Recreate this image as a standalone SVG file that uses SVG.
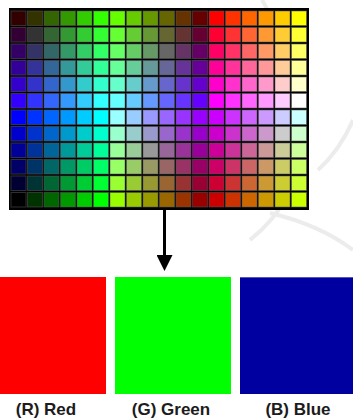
<svg xmlns="http://www.w3.org/2000/svg" xmlns:xlink="http://www.w3.org/1999/xlink" width="353" height="420" viewBox="0 0 353 420">
<style>
.lbl{font-family:"Liberation Sans",Arial,sans-serif;font-weight:bold;font-size:17px;fill:#1c1c1c;text-anchor:middle}
.conn{stroke:#000;stroke-width:3;fill:none}
.wm{fill:none;stroke:#ececec;stroke-width:4}
</style>
<defs>
<rect id="k" width="15" height="14.5" stroke="#555" stroke-opacity="0.55" stroke-width="1"/>
<marker id="ah" markerUnits="userSpaceOnUse" markerWidth="16" markerHeight="16" refX="0" refY="8" orient="auto" viewBox="0 0 16 16">
<path d="M0,0 L16,8 L0,16 Z" fill="#000"/>
</marker>
</defs>
<rect width="353" height="420" fill="#fff"/>
<g id="watermark">
<path class="wm" d="M262,0 Q300,60 300,140 Q300,200 250,240"/>
<path class="wm" d="M270,213 Q320,225 353,250"/>
<path class="wm" d="M318,170 Q340,150 353,120"/>
</g>
<g id="palette">
<rect x="9" y="8" width="300" height="202" fill="#000"/>
<g id="row0" transform="translate(0,11)">
<use xlink:href="#k" x="11" fill="#300"/><use xlink:href="#k" x="27.5" fill="#330"/><use xlink:href="#k" x="44" fill="#360"/><use xlink:href="#k" x="60.5" fill="#390"/><use xlink:href="#k" x="77" fill="#3C0"/><use xlink:href="#k" x="93.5" fill="#3F0"/><use xlink:href="#k" x="110" fill="#6F0"/><use xlink:href="#k" x="126.5" fill="#6C0"/><use xlink:href="#k" x="143" fill="#690"/><use xlink:href="#k" x="159.5" fill="#660"/><use xlink:href="#k" x="176" fill="#630"/><use xlink:href="#k" x="192.5" fill="#600"/><use xlink:href="#k" x="209" fill="#F00"/><use xlink:href="#k" x="225.5" fill="#F30"/><use xlink:href="#k" x="242" fill="#F60"/><use xlink:href="#k" x="258.5" fill="#F90"/><use xlink:href="#k" x="275" fill="#FC0"/><use xlink:href="#k" x="291.5" fill="#FF0"/>
</g>
<g id="row1" transform="translate(0,27.5)">
<use xlink:href="#k" x="11" fill="#303"/><use xlink:href="#k" x="27.5" fill="#333"/><use xlink:href="#k" x="44" fill="#363"/><use xlink:href="#k" x="60.5" fill="#393"/><use xlink:href="#k" x="77" fill="#3C3"/><use xlink:href="#k" x="93.5" fill="#3F3"/><use xlink:href="#k" x="110" fill="#6F3"/><use xlink:href="#k" x="126.5" fill="#6C3"/><use xlink:href="#k" x="143" fill="#693"/><use xlink:href="#k" x="159.5" fill="#663"/><use xlink:href="#k" x="176" fill="#633"/><use xlink:href="#k" x="192.5" fill="#603"/><use xlink:href="#k" x="209" fill="#F03"/><use xlink:href="#k" x="225.5" fill="#F33"/><use xlink:href="#k" x="242" fill="#F63"/><use xlink:href="#k" x="258.5" fill="#F93"/><use xlink:href="#k" x="275" fill="#FC3"/><use xlink:href="#k" x="291.5" fill="#FF3"/>
</g>
<g id="row2" transform="translate(0,44)">
<use xlink:href="#k" x="11" fill="#306"/><use xlink:href="#k" x="27.5" fill="#336"/><use xlink:href="#k" x="44" fill="#366"/><use xlink:href="#k" x="60.5" fill="#396"/><use xlink:href="#k" x="77" fill="#3C6"/><use xlink:href="#k" x="93.5" fill="#3F6"/><use xlink:href="#k" x="110" fill="#6F6"/><use xlink:href="#k" x="126.5" fill="#6C6"/><use xlink:href="#k" x="143" fill="#696"/><use xlink:href="#k" x="159.5" fill="#666"/><use xlink:href="#k" x="176" fill="#636"/><use xlink:href="#k" x="192.5" fill="#606"/><use xlink:href="#k" x="209" fill="#F06"/><use xlink:href="#k" x="225.5" fill="#F36"/><use xlink:href="#k" x="242" fill="#F66"/><use xlink:href="#k" x="258.5" fill="#F96"/><use xlink:href="#k" x="275" fill="#FC6"/><use xlink:href="#k" x="291.5" fill="#FF6"/>
</g>
<g id="row3" transform="translate(0,60.5)">
<use xlink:href="#k" x="11" fill="#309"/><use xlink:href="#k" x="27.5" fill="#339"/><use xlink:href="#k" x="44" fill="#369"/><use xlink:href="#k" x="60.5" fill="#399"/><use xlink:href="#k" x="77" fill="#3C9"/><use xlink:href="#k" x="93.5" fill="#3F9"/><use xlink:href="#k" x="110" fill="#6F9"/><use xlink:href="#k" x="126.5" fill="#6C9"/><use xlink:href="#k" x="143" fill="#699"/><use xlink:href="#k" x="159.5" fill="#669"/><use xlink:href="#k" x="176" fill="#639"/><use xlink:href="#k" x="192.5" fill="#609"/><use xlink:href="#k" x="209" fill="#F09"/><use xlink:href="#k" x="225.5" fill="#F39"/><use xlink:href="#k" x="242" fill="#F69"/><use xlink:href="#k" x="258.5" fill="#F99"/><use xlink:href="#k" x="275" fill="#FC9"/><use xlink:href="#k" x="291.5" fill="#FF9"/>
</g>
<g id="row4" transform="translate(0,77)">
<use xlink:href="#k" x="11" fill="#30C"/><use xlink:href="#k" x="27.5" fill="#33C"/><use xlink:href="#k" x="44" fill="#36C"/><use xlink:href="#k" x="60.5" fill="#39C"/><use xlink:href="#k" x="77" fill="#3CC"/><use xlink:href="#k" x="93.5" fill="#3FC"/><use xlink:href="#k" x="110" fill="#6FC"/><use xlink:href="#k" x="126.5" fill="#6CC"/><use xlink:href="#k" x="143" fill="#69C"/><use xlink:href="#k" x="159.5" fill="#66C"/><use xlink:href="#k" x="176" fill="#63C"/><use xlink:href="#k" x="192.5" fill="#60C"/><use xlink:href="#k" x="209" fill="#F0C"/><use xlink:href="#k" x="225.5" fill="#F3C"/><use xlink:href="#k" x="242" fill="#F6C"/><use xlink:href="#k" x="258.5" fill="#F9C"/><use xlink:href="#k" x="275" fill="#FCC"/><use xlink:href="#k" x="291.5" fill="#FFC"/>
</g>
<g id="row5" transform="translate(0,93.5)">
<use xlink:href="#k" x="11" fill="#30F"/><use xlink:href="#k" x="27.5" fill="#33F"/><use xlink:href="#k" x="44" fill="#36F"/><use xlink:href="#k" x="60.5" fill="#39F"/><use xlink:href="#k" x="77" fill="#3CF"/><use xlink:href="#k" x="93.5" fill="#3FF"/><use xlink:href="#k" x="110" fill="#6FF"/><use xlink:href="#k" x="126.5" fill="#6CF"/><use xlink:href="#k" x="143" fill="#69F"/><use xlink:href="#k" x="159.5" fill="#66F"/><use xlink:href="#k" x="176" fill="#63F"/><use xlink:href="#k" x="192.5" fill="#60F"/><use xlink:href="#k" x="209" fill="#F0F"/><use xlink:href="#k" x="225.5" fill="#F3F"/><use xlink:href="#k" x="242" fill="#F6F"/><use xlink:href="#k" x="258.5" fill="#F9F"/><use xlink:href="#k" x="275" fill="#FCF"/><use xlink:href="#k" x="291.5" fill="#FFF"/>
</g>
<g id="row6" transform="translate(0,110)">
<use xlink:href="#k" x="11" fill="#00F"/><use xlink:href="#k" x="27.5" fill="#03F"/><use xlink:href="#k" x="44" fill="#06F"/><use xlink:href="#k" x="60.5" fill="#09F"/><use xlink:href="#k" x="77" fill="#0CF"/><use xlink:href="#k" x="93.5" fill="#0FF"/><use xlink:href="#k" x="110" fill="#9FF"/><use xlink:href="#k" x="126.5" fill="#9CF"/><use xlink:href="#k" x="143" fill="#99F"/><use xlink:href="#k" x="159.5" fill="#96F"/><use xlink:href="#k" x="176" fill="#93F"/><use xlink:href="#k" x="192.5" fill="#90F"/><use xlink:href="#k" x="209" fill="#C0F"/><use xlink:href="#k" x="225.5" fill="#C3F"/><use xlink:href="#k" x="242" fill="#C6F"/><use xlink:href="#k" x="258.5" fill="#C9F"/><use xlink:href="#k" x="275" fill="#CCF"/><use xlink:href="#k" x="291.5" fill="#CFF"/>
</g>
<g id="row7" transform="translate(0,126.5)">
<use xlink:href="#k" x="11" fill="#00C"/><use xlink:href="#k" x="27.5" fill="#03C"/><use xlink:href="#k" x="44" fill="#06C"/><use xlink:href="#k" x="60.5" fill="#09C"/><use xlink:href="#k" x="77" fill="#0CC"/><use xlink:href="#k" x="93.5" fill="#0FC"/><use xlink:href="#k" x="110" fill="#9FC"/><use xlink:href="#k" x="126.5" fill="#9CC"/><use xlink:href="#k" x="143" fill="#99C"/><use xlink:href="#k" x="159.5" fill="#96C"/><use xlink:href="#k" x="176" fill="#93C"/><use xlink:href="#k" x="192.5" fill="#90C"/><use xlink:href="#k" x="209" fill="#C0C"/><use xlink:href="#k" x="225.5" fill="#C3C"/><use xlink:href="#k" x="242" fill="#C6C"/><use xlink:href="#k" x="258.5" fill="#C9C"/><use xlink:href="#k" x="275" fill="#CCC"/><use xlink:href="#k" x="291.5" fill="#CFC"/>
</g>
<g id="row8" transform="translate(0,143)">
<use xlink:href="#k" x="11" fill="#009"/><use xlink:href="#k" x="27.5" fill="#039"/><use xlink:href="#k" x="44" fill="#069"/><use xlink:href="#k" x="60.5" fill="#099"/><use xlink:href="#k" x="77" fill="#0C9"/><use xlink:href="#k" x="93.5" fill="#0F9"/><use xlink:href="#k" x="110" fill="#9F9"/><use xlink:href="#k" x="126.5" fill="#9C9"/><use xlink:href="#k" x="143" fill="#999"/><use xlink:href="#k" x="159.5" fill="#969"/><use xlink:href="#k" x="176" fill="#939"/><use xlink:href="#k" x="192.5" fill="#909"/><use xlink:href="#k" x="209" fill="#C09"/><use xlink:href="#k" x="225.5" fill="#C39"/><use xlink:href="#k" x="242" fill="#C69"/><use xlink:href="#k" x="258.5" fill="#C99"/><use xlink:href="#k" x="275" fill="#CC9"/><use xlink:href="#k" x="291.5" fill="#CF9"/>
</g>
<g id="row9" transform="translate(0,159.5)">
<use xlink:href="#k" x="11" fill="#006"/><use xlink:href="#k" x="27.5" fill="#036"/><use xlink:href="#k" x="44" fill="#066"/><use xlink:href="#k" x="60.5" fill="#096"/><use xlink:href="#k" x="77" fill="#0C6"/><use xlink:href="#k" x="93.5" fill="#0F6"/><use xlink:href="#k" x="110" fill="#9F6"/><use xlink:href="#k" x="126.5" fill="#9C6"/><use xlink:href="#k" x="143" fill="#996"/><use xlink:href="#k" x="159.5" fill="#966"/><use xlink:href="#k" x="176" fill="#936"/><use xlink:href="#k" x="192.5" fill="#906"/><use xlink:href="#k" x="209" fill="#C06"/><use xlink:href="#k" x="225.5" fill="#C36"/><use xlink:href="#k" x="242" fill="#C66"/><use xlink:href="#k" x="258.5" fill="#C96"/><use xlink:href="#k" x="275" fill="#CC6"/><use xlink:href="#k" x="291.5" fill="#CF6"/>
</g>
<g id="row10" transform="translate(0,176)">
<use xlink:href="#k" x="11" fill="#003"/><use xlink:href="#k" x="27.5" fill="#033"/><use xlink:href="#k" x="44" fill="#063"/><use xlink:href="#k" x="60.5" fill="#093"/><use xlink:href="#k" x="77" fill="#0C3"/><use xlink:href="#k" x="93.5" fill="#0F3"/><use xlink:href="#k" x="110" fill="#9F3"/><use xlink:href="#k" x="126.5" fill="#9C3"/><use xlink:href="#k" x="143" fill="#993"/><use xlink:href="#k" x="159.5" fill="#963"/><use xlink:href="#k" x="176" fill="#933"/><use xlink:href="#k" x="192.5" fill="#903"/><use xlink:href="#k" x="209" fill="#C03"/><use xlink:href="#k" x="225.5" fill="#C33"/><use xlink:href="#k" x="242" fill="#C63"/><use xlink:href="#k" x="258.5" fill="#C93"/><use xlink:href="#k" x="275" fill="#CC3"/><use xlink:href="#k" x="291.5" fill="#CF3"/>
</g>
<g id="row11" transform="translate(0,192.5)">
<use xlink:href="#k" x="11" fill="#000"/><use xlink:href="#k" x="27.5" fill="#030"/><use xlink:href="#k" x="44" fill="#060"/><use xlink:href="#k" x="60.5" fill="#090"/><use xlink:href="#k" x="77" fill="#0C0"/><use xlink:href="#k" x="93.5" fill="#0F0"/><use xlink:href="#k" x="110" fill="#9F0"/><use xlink:href="#k" x="126.5" fill="#9C0"/><use xlink:href="#k" x="143" fill="#990"/><use xlink:href="#k" x="159.5" fill="#960"/><use xlink:href="#k" x="176" fill="#930"/><use xlink:href="#k" x="192.5" fill="#900"/><use xlink:href="#k" x="209" fill="#C00"/><use xlink:href="#k" x="225.5" fill="#C30"/><use xlink:href="#k" x="242" fill="#C60"/><use xlink:href="#k" x="258.5" fill="#C90"/><use xlink:href="#k" x="275" fill="#CC0"/><use xlink:href="#k" x="291.5" fill="#CF0"/>
</g>
</g>
<g id="connectors">
<line class="conn" x1="164.5" y1="210" x2="164.5" y2="255" marker-end="url(#ah)"/>
</g>
<g id="red">
<rect x="0" y="277" width="106" height="117" fill="#FF0000"/>
<text class="lbl" x="46" y="415">(R) Red</text>
</g>
<g id="green">
<rect x="115" y="277" width="116" height="117" fill="#00FF00"/>
<text class="lbl" x="171" y="415">(G) Green</text>
</g>
<g id="blue">
<rect x="240" y="277" width="113" height="117" fill="#0000A0"/>
<line x1="240" y1="277.5" x2="353" y2="277.5" stroke="#5555bb" stroke-width="1"/>
<text class="lbl" x="298" y="415">(B) Blue</text>
</g>
</svg>
